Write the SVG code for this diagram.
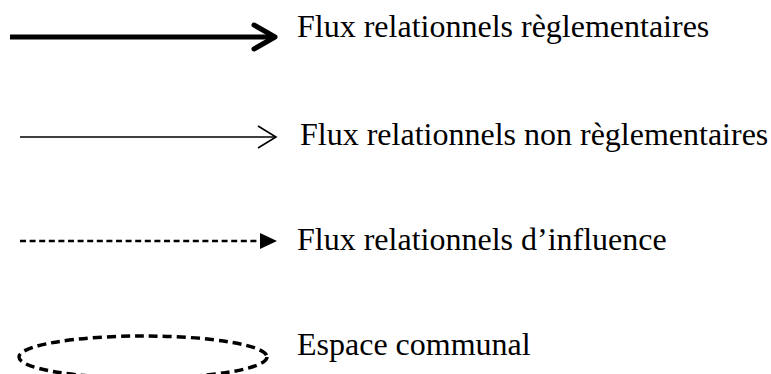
<svg xmlns="http://www.w3.org/2000/svg" width="771" height="374" viewBox="0 0 771 374">
<style>
.lbl{font-family:"Liberation Serif","Times New Roman",serif;font-size:32px;fill:#000}
.ln{fill:none;stroke:#000}
</style>
<rect width="771" height="374" fill="#fff"/>
<g id="connectors">
<g id="thick-arrow">
<line class="ln" x1="10" y1="37" x2="272" y2="37" stroke-width="5"/>
<polyline class="ln" points="254,25 275,37 254,49" stroke-width="5" stroke-linecap="round" stroke-linejoin="round"/>
</g>
<g id="thin-arrow">
<line class="ln" x1="20" y1="137" x2="275" y2="137" stroke-width="1.6"/>
<polyline class="ln" points="258,126 276,137 258,148" stroke-width="1.6"/>
</g>
<g id="dashed-arrow">
<line class="ln" x1="20" y1="241" x2="262" y2="241" stroke-width="2.4" stroke-dasharray="6,3.6"/>
<polygon points="260,233 277,241 260,249" fill="#000"/>
</g>
</g>
<g id="ellipse-node">
<ellipse class="ln" cx="143" cy="357" rx="124" ry="21" stroke-width="3.5" stroke-dasharray="9,5"/>
</g>
<g id="labels">
<text class="lbl" x="297" y="37">Flux relationnels règlementaires</text>
<text class="lbl" x="300" y="145">Flux relationnels non règlementaires</text>
<text class="lbl" x="297" y="250">Flux relationnels d’influence</text>
<text class="lbl" x="297" y="355">Espace communal</text>
</g>
</svg>
